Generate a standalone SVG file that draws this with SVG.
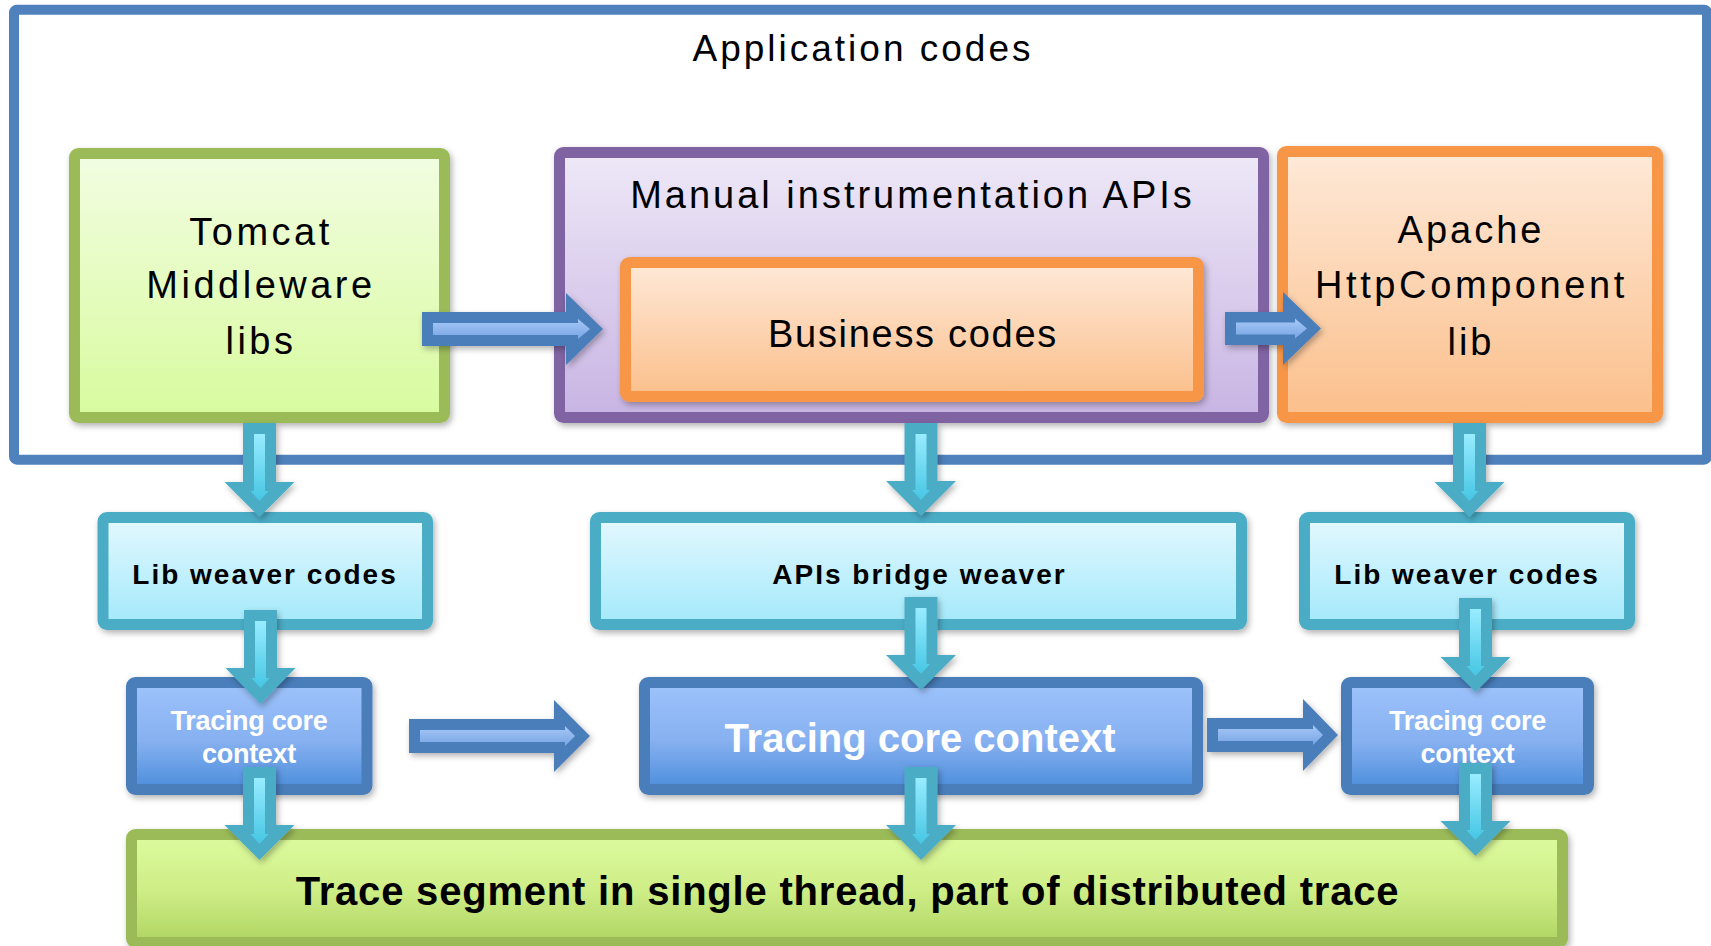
<svg xmlns="http://www.w3.org/2000/svg" width="1711" height="946" viewBox="0 0 1711 946">
<defs>
<style>
text{font-family:"Liberation Sans",Arial,sans-serif;text-anchor:middle;fill:#000}
.big{font-size:38px}
.bold{font-weight:bold}
.wt{fill:#fff;font-weight:bold}
.box{stroke-width:11}
.green{fill:url(#gGreen);stroke:#9bbb59}
.purple{fill:url(#gPurple);stroke:#8064a2}
.orange{fill:url(#gOrange);stroke:#f79646}
.cyan{fill:url(#gCyan);stroke:#4bacc6}
.blue{fill:url(#gBlue);stroke:#4a7ebb}
.lime{fill:url(#gLime);stroke:#9bbb59}
.hOut{fill:#4a7ebb}
.hIn{fill:url(#gHIn)}
.vOut{fill:#4bacc6}
.vIn{fill:url(#gVIn)}
</style>
<filter id="sh" x="-10%" y="-10%" width="120%" height="130%">
<feDropShadow dx="2" dy="3" stdDeviation="3" flood-color="#000" flood-opacity="0.3"/>
</filter>
<linearGradient id="gGreen" x1="0" y1="0" x2="0" y2="1"><stop offset="0" stop-color="#f2fde2"/><stop offset="1" stop-color="#d8fb9e"/></linearGradient>
<linearGradient id="gPurple" x1="0" y1="0" x2="0" y2="1"><stop offset="0" stop-color="#eee8f7"/><stop offset="1" stop-color="#c8b4e3"/></linearGradient>
<linearGradient id="gOrange" x1="0" y1="0" x2="0" y2="1"><stop offset="0" stop-color="#fee9d8"/><stop offset="1" stop-color="#fbbf8b"/></linearGradient>
<linearGradient id="gCyan" x1="0" y1="0" x2="0" y2="1"><stop offset="0" stop-color="#e4f8fe"/><stop offset="1" stop-color="#a3e9fb"/></linearGradient>
<linearGradient id="gBlue" x1="0" y1="0" x2="0" y2="1"><stop offset="0" stop-color="#9ec3fc"/><stop offset="0.55" stop-color="#86b0f0"/><stop offset="1" stop-color="#4b8ddb"/></linearGradient>
<linearGradient id="gLime" x1="0" y1="0" x2="0" y2="1"><stop offset="0" stop-color="#dcfb9e"/><stop offset="0.5" stop-color="#cfee88"/><stop offset="1" stop-color="#b0d562"/></linearGradient>
<linearGradient id="gHIn" x1="0" y1="0" x2="0" y2="1"><stop offset="0" stop-color="#a6c8f6"/><stop offset="1" stop-color="#78a5e6"/></linearGradient>
<linearGradient id="gVIn" x1="0" y1="0" x2="0" y2="1"><stop offset="0" stop-color="#98ecff"/><stop offset="1" stop-color="#46c6e4"/></linearGradient>
</defs>
<rect width="1711" height="946" fill="#fff"/>

<g id="app-codes">
<rect x="14" y="9.7" width="1693" height="450" rx="3" fill="none" stroke="#4f81bd" stroke-width="10"/>
<text x="863" y="61" style="font-size:37px;letter-spacing:3px">Application codes</text>
</g>

<g id="tomcat">
<rect class="box green" x="74.5" y="153.5" width="370" height="264" rx="4" filter="url(#sh)"/>
<text class="big" x="261" y="245" style="letter-spacing:3.5px">Tomcat</text>
<text class="big" x="261" y="298" style="letter-spacing:3.5px">Middleware</text>
<text class="big" x="261" y="354" style="letter-spacing:3.5px">libs</text>
</g>

<g id="manual-apis">
<rect class="box purple" x="559.5" y="152.5" width="704" height="265" rx="4" filter="url(#sh)"/>
<text class="big" x="912.5" y="208" style="letter-spacing:3px">Manual instrumentation APIs</text>
</g>

<g id="business">
<rect class="box orange" x="625.5" y="262.5" width="573" height="134" rx="4" filter="url(#sh)"/>
<text class="big" x="913" y="347" style="letter-spacing:1.7px">Business codes</text>
</g>

<g id="apache">
<rect class="box orange" x="1282.5" y="151.5" width="375" height="266" rx="4" filter="url(#sh)"/>
<text class="big" x="1471" y="243" style="letter-spacing:3px">Apache</text>
<text class="big" x="1471.5" y="298" style="letter-spacing:3.6px">HttpComponent</text>
<text class="big" x="1471" y="355" style="letter-spacing:3px">lib</text>
</g>

<g id="lib-weaver-left">
<rect class="box cyan" x="103" y="517.5" width="324.5" height="107" rx="4" filter="url(#sh)"/>
<text class="bold" x="265" y="584" style="font-size:28px;letter-spacing:2px">Lib weaver codes</text>
</g>

<g id="apis-bridge-weaver">
<rect class="box cyan" x="595.5" y="517.5" width="646" height="107" rx="4" filter="url(#sh)"/>
<text class="bold" x="919.5" y="584" style="font-size:28px;letter-spacing:2px">APIs bridge weaver</text>
</g>

<g id="lib-weaver-right">
<rect class="box cyan" x="1304.5" y="517.5" width="325" height="107" rx="4" filter="url(#sh)"/>
<text class="bold" x="1467" y="584" style="font-size:28px;letter-spacing:2px">Lib weaver codes</text>
</g>

<g id="tracing-left">
<rect class="box blue" x="131.5" y="682.5" width="235.5" height="107" rx="4" filter="url(#sh)"/>
<text class="wt" x="249" y="730" style="font-size:27px;letter-spacing:-0.3px">Tracing core</text>
<text class="wt" x="249" y="763" style="font-size:27px;letter-spacing:-0.3px">context</text>
</g>

<g id="tracing-center">
<rect class="box blue" x="644.5" y="682.5" width="553" height="107" rx="4" filter="url(#sh)"/>
<text class="wt" x="920" y="752" style="font-size:40px">Tracing core context</text>
</g>

<g id="tracing-right">
<rect class="box blue" x="1346.5" y="682.5" width="242" height="107" rx="4" filter="url(#sh)"/>
<text class="wt" x="1467.5" y="730" style="font-size:27px;letter-spacing:-0.3px">Tracing core</text>
<text class="wt" x="1467.5" y="763" style="font-size:27px;letter-spacing:-0.3px">context</text>
</g>

<g id="trace-segment">
<rect class="box lime" x="131.5" y="834.5" width="1431" height="108" rx="4" filter="url(#sh)"/>
<text class="bold" x="847.5" y="905" style="font-size:40px;letter-spacing:0.8px">Trace segment in single thread, part of distributed trace</text>
</g>

<g id="connectors" filter="url(#sh)">
<polygon class="hOut" points="422,312 566,312 566,293 603,329 566,365 566,346 422,346"/>
<polygon class="hIn" points="433,323 578,323 578,319 590,329 578,339 578,335 433,335"/>
<polygon class="hOut" points="1225,312 1283,312 1283,292 1321,328.5 1283,365 1283,345 1225,345"/>
<polygon class="hIn" points="1236,322.5 1295,322.5 1295,318.5 1307,328.5 1295,338.5 1295,334.5 1236,334.5"/>
<polygon class="hOut" points="409,719 554,719 554,700 590,736 554,772 554,753 409,753"/>
<polygon class="hIn" points="420,730 565,730 565,726 575,736 565,746 565,742 420,742"/>
<polygon class="hOut" points="1207,718 1303,718 1303,699 1338,735 1303,771 1303,752 1207,752"/>
<polygon class="hIn" points="1218,729 1313,729 1313,725 1323,735 1313,745 1313,741 1218,741"/>

<polygon class="vOut" points="243,423 276,423 276,482 294.5,482 259.5,517 224.5,482 243,482"/>
<polygon class="vIn" points="254,434 265,434 265,491 268.5,491 259.5,501 250.5,491 254,491"/>
<polygon class="vOut" points="904.5,423 937.5,423 937.5,481 956,481 921,516 886,481 904.5,481"/>
<polygon class="vIn" points="915.5,434 926.5,434 926.5,490 930,490 921,500 912,490 915.5,490"/>
<polygon class="vOut" points="1453,423 1486,423 1486,482 1504.5,482 1469.5,517 1434.5,482 1453,482"/>
<polygon class="vIn" points="1464,434 1475,434 1475,491 1478.5,491 1469.5,501 1460.5,491 1464,491"/>
<polygon class="vOut" points="244,610 277,610 277,668 295.5,668 260.5,704 225.5,668 244,668"/>
<polygon class="vIn" points="255,621 266,621 266,678 269.5,678 260.5,688 251.5,678 255,678"/>
<polygon class="vOut" points="904.5,597 937.5,597 937.5,655 956,655 921,690 886,655 904.5,655"/>
<polygon class="vIn" points="915.5,608 926.5,608 926.5,664 930,664 921,674 912,664 915.5,664"/>
<polygon class="vOut" points="1459,598 1492,598 1492,657 1510.5,657 1475.5,692 1440.5,657 1459,657"/>
<polygon class="vIn" points="1470,609 1481,609 1481,666 1484.5,666 1475.5,676 1466.5,666 1470,666"/>
<polygon class="vOut" points="243,767 276,767 276,825 294.5,825 259.5,860 224.5,825 243,825"/>
<polygon class="vIn" points="254,778 265,778 265,834 268.5,834 259.5,844 250.5,834 254,834"/>
<polygon class="vOut" points="904.5,767 937.5,767 937.5,825 956,825 921,860 886,825 904.5,825"/>
<polygon class="vIn" points="915.5,778 926.5,778 926.5,834 930,834 921,844 912,834 915.5,834"/>
<polygon class="vOut" points="1459,763 1492,763 1492,821 1510.5,821 1475.5,856 1440.5,821 1459,821"/>
<polygon class="vIn" points="1470,774 1481,774 1481,830 1484.5,830 1475.5,840 1466.5,830 1470,830"/>
</g>
</svg>
